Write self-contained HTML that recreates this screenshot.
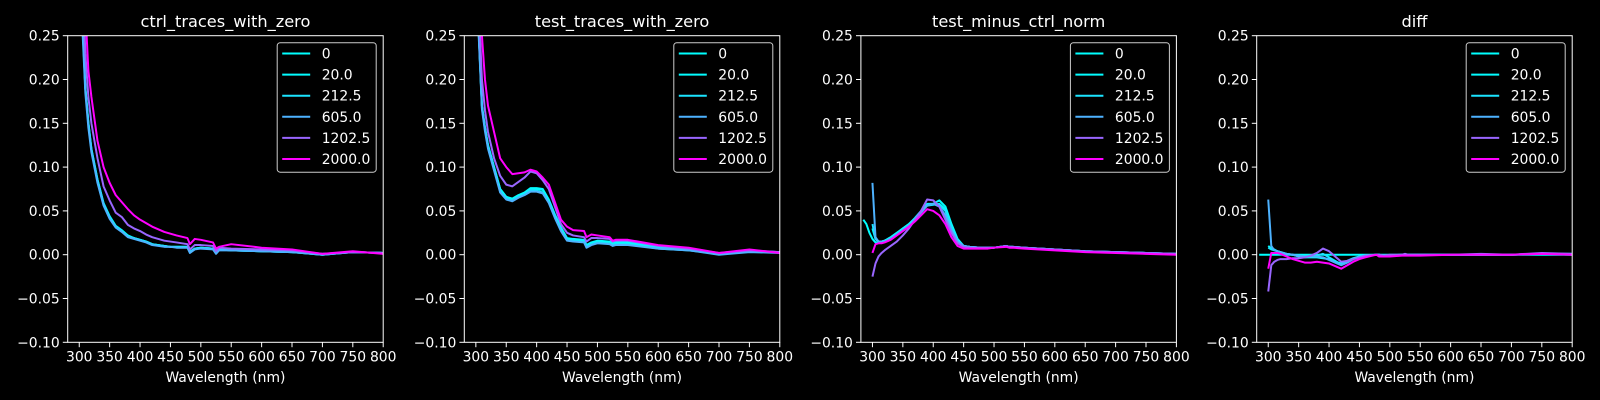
<!DOCTYPE html>
<html><head><meta charset="utf-8">
<style>
html,body{margin:0;padding:0;background:#000;}
svg{display:block;}
text{font-family:"DejaVu Sans","Liberation Sans",sans-serif;fill:#fff;}
</style></head>
<body>
<svg id="fig" width="1600" height="400" viewBox="0 0 1600 400" xmlns="http://www.w3.org/2000/svg">
<rect width="1600" height="400" fill="#000"/>
</svg>
<script>
const wavelengths = [285,290,295,300,305,310,315,320,330,340,350,360,370,380,390,400,410,420,430,440,450,460,478,482,490,500,520,525,530,550,600,650,700,750,800];
const seriesLabels = ["0","20.0","212.5","605.0","1202.5","2000.0"];
const seriesColors = ["#00ffff","#03fcff","#1be4ff","#4db2ff","#9966ff","#ff00ff"];
const panelTitles = ["ctrl_traces_with_zero","test_traces_with_zero","test_minus_ctrl_norm","diff"];
const xTicks = [300,350,400,450,500,550,600,650,700,750,800];
const yTicks = [-0.10,-0.05,0.00,0.05,0.10,0.15,0.20,0.25];
const yTickLabels = ["\u22120.10","\u22120.05","0.00","0.05","0.10","0.15","0.20","0.25"];
const n = null;

const ctrl0 = [n,n,n,0.45,0.27,0.19,0.15,0.12,0.085,0.058,0.043,0.032,0.027,0.021,0.019,0.017,0.015,0.012,0.011,0.010,0.009,0.009,0.009,0.003,0.007,0.008,0.007,0.002,0.006,0.005,0.004,0.003,0.000,0.003,0.002];
const ctrl20 = [n,n,n,0.45,0.272,0.191,0.151,0.121,0.086,0.059,0.044,0.033,0.028,0.022,0.019,0.017,0.015,0.012,0.011,0.010,0.009,0.009,0.009,0.003,0.007,0.008,0.007,0.002,0.006,0.005,0.004,0.003,0.001,0.003,0.002];
const ctrl212 = [n,n,n,0.45,0.27,0.19,0.15,0.12,0.085,0.058,0.043,0.032,0.027,0.021,0.019,0.017,0.015,0.012,0.011,0.010,0.009,0.009,0.009,0.003,0.007,0.008,0.007,0.002,0.006,0.005,0.004,0.003,0.000,0.003,0.002];
const ctrl605 = [n,n,n,0.44,0.26,0.185,0.145,0.117,0.082,0.056,0.041,0.031,0.026,0.020,0.018,0.016,0.014,0.011,0.010,0.009,0.009,0.008,0.008,0.002,0.006,0.007,0.006,0.001,0.005,0.005,0.004,0.003,0.000,0.003,0.002];
const ctrl1202 = [n,n,n,0.5,0.33,0.23,0.18,0.15,0.11,0.078,0.062,0.048,0.043,0.034,0.030,0.027,0.023,0.020,0.018,0.016,0.015,0.014,0.012,0.006,0.011,0.011,0.010,0.004,0.008,0.007,0.006,0.005,0.001,0.003,0.002];
const ctrl2000 = [n,n,n,0.6,0.4,0.28,0.21,0.18,0.13,0.10,0.082,0.068,0.060,0.052,0.045,0.040,0.036,0.032,0.029,0.026,0.024,0.022,0.019,0.012,0.018,0.017,0.014,0.007,0.009,0.012,0.008,0.006,0.001,0.004,0.001];

const test0 = [n,n,n,0.45,0.25,0.17,0.145,0.125,0.10,0.075,0.066,0.063,0.067,0.070,0.075,0.075,0.074,0.062,0.045,0.030,0.018,0.017,0.016,0.010,0.013,0.015,0.014,0.012,0.013,0.013,0.008,0.006,0.001,0.004,0.003];
const test20 = [n,n,n,0.45,0.25,0.17,0.145,0.125,0.10,0.075,0.066,0.064,0.068,0.071,0.076,0.076,0.075,0.063,0.046,0.031,0.019,0.018,0.017,0.011,0.014,0.016,0.015,0.013,0.014,0.014,0.009,0.006,0.001,0.004,0.003];
const test212 = [n,n,n,0.45,0.248,0.168,0.143,0.123,0.098,0.073,0.064,0.062,0.066,0.069,0.074,0.073,0.071,0.060,0.043,0.028,0.017,0.016,0.015,0.009,0.012,0.014,0.013,0.011,0.012,0.012,0.007,0.005,0.001,0.004,0.003];
const test605 = [n,n,n,0.44,0.245,0.166,0.141,0.121,0.096,0.071,0.063,0.061,0.065,0.068,0.072,0.072,0.070,0.059,0.042,0.027,0.016,0.015,0.014,0.008,0.011,0.013,0.012,0.010,0.011,0.011,0.007,0.005,0.000,0.003,0.002];
const test1202 = [n,n,n,0.5,0.28,0.2,0.165,0.14,0.11,0.09,0.08,0.078,0.083,0.088,0.095,0.093,0.085,0.075,0.055,0.035,0.025,0.022,0.020,0.015,0.019,0.019,0.018,0.015,0.016,0.016,0.010,0.007,0.002,0.005,0.003];
const test2000 = [n,n,n,0.6,0.35,0.25,0.2,0.17,0.14,0.11,0.10,0.092,0.093,0.094,0.097,0.095,0.088,0.080,0.060,0.040,0.032,0.028,0.027,0.020,0.023,0.022,0.020,0.016,0.017,0.017,0.011,0.008,0.002,0.006,0.002];

const norm0 = [0.04,0.035,0.025,0.018,0.014,0.014,0.015,0.016,0.020,0.025,0.030,0.035,0.042,0.050,0.058,0.058,0.062,0.055,0.035,0.018,0.010,0.009,0.008,0.008,0.008,0.008,0.010,0.009,0.009,0.008,0.006,0.004,0.003,0.002,0.001];
const norm20 = [n,n,n,0.03,0.018,0.015,0.015,0.016,0.019,0.024,0.030,0.035,0.041,0.049,0.056,0.057,0.058,0.052,0.033,0.017,0.010,0.009,0.008,0.008,0.008,0.008,0.010,0.009,0.009,0.008,0.006,0.004,0.003,0.002,0.001];
const norm212 = [n,n,n,0.035,0.018,0.015,0.015,0.016,0.019,0.024,0.029,0.034,0.041,0.049,0.057,0.058,0.057,0.050,0.031,0.016,0.010,0.009,0.008,0.008,0.008,0.008,0.010,0.009,0.009,0.008,0.006,0.004,0.003,0.002,0.001];
const norm605 = [n,n,n,0.082,0.02,0.015,0.015,0.015,0.018,0.023,0.028,0.033,0.040,0.048,0.056,0.058,0.055,0.045,0.028,0.015,0.010,0.009,0.008,0.008,0.008,0.008,0.010,0.009,0.009,0.008,0.006,0.004,0.003,0.002,0.001];
const norm1202 = [n,n,n,-0.025,-0.01,-0.002,0.002,0.005,0.010,0.015,0.022,0.030,0.040,0.050,0.063,0.062,0.055,0.040,0.025,0.013,0.009,0.008,0.008,0.008,0.008,0.008,0.010,0.009,0.009,0.008,0.006,0.004,0.003,0.002,0.001];
const norm2000 = [n,n,n,0.002,0.012,0.013,0.013,0.014,0.017,0.022,0.027,0.032,0.038,0.045,0.052,0.050,0.045,0.035,0.020,0.010,0.007,0.007,0.007,0.007,0.007,0.008,0.009,0.008,0.008,0.007,0.005,0.003,0.002,0.001,0.000];

const diff0 = [0,0,0,0,0,0,0,0,0,0,0,0,0,0,0,0,0,0,0,0,0,0,0,0,0,0,0,0,0,0,0,0,0,0,0];
const diff20 = [n,n,n,0.010,0.007,0.006,0.004,0.003,0.001,0,-0.002,-0.003,-0.003,-0.003,-0.004,-0.005,-0.008,-0.010,-0.007,-0.004,-0.002,-0.001,0,0,-0.001,-0.001,0,0,0,0,0,0,0,0.001,0.001];
const diff212 = [n,n,n,0.008,0.006,0.005,0.004,0.003,0.001,0,-0.002,-0.003,-0.002,-0.001,0.001,-0.003,-0.007,-0.011,-0.008,-0.005,-0.002,-0.001,0,0,-0.001,-0.001,0,0,0,0,0,0,0,0.001,0.001];
const diff605 = [n,n,n,0.063,0.01,0.005,0.004,0.003,0.001,0,-0.001,-0.002,-0.002,-0.002,-0.003,-0.006,-0.009,-0.012,-0.009,-0.005,-0.003,-0.001,0,0,-0.001,-0.001,0,0,0,0,0,0,0,0.001,0];
const diff1202 = [n,n,n,-0.042,-0.012,-0.008,-0.006,-0.005,-0.005,-0.004,-0.004,-0.003,-0.001,0.002,0.007,0.004,-0.002,-0.008,-0.007,-0.005,-0.003,-0.001,0,0,-0.001,0,0,0.001,0,0,0,0.001,0,0.002,0.001];
const diff2000 = [n,n,n,-0.016,0.002,0.002,0.002,0.001,-0.002,-0.005,-0.007,-0.009,-0.009,-0.008,-0.009,-0.010,-0.013,-0.016,-0.012,-0.008,-0.005,-0.003,0,-0.002,-0.002,-0.002,-0.001,-0.001,-0.001,-0.001,0,0,0,0.001,0];

const panelSeries = [
  [ctrl0,ctrl20,ctrl212,ctrl605,ctrl1202,ctrl2000],
  [test0,test20,test212,test605,test1202,test2000],
  [norm0,norm20,norm212,norm605,norm1202,norm2000],
  [diff0,diff20,diff212,diff605,diff1202,diff2000]
];

const NS = "http://www.w3.org/2000/svg";
const svg = document.getElementById("fig");
const panelLeft = [67.7,464.3,860.9,1256.7];
const AX_W = 315.5, AX_TOP = 35.7, AX_H = 306.6;
const XMIN = 281, XMAX = 800, YMIN = -0.10, YMAX = 0.25;

function mk(tag, attrs, parent){
  const e = document.createElementNS(NS, tag);
  for (const k in attrs) e.setAttribute(k, attrs[k]);
  (parent||svg).appendChild(e);
  return e;
}

panelTitles.forEach((title, p) => {
  const L = panelLeft[p];
  const xs = v => L + (v - XMIN) / (XMAX - XMIN) * AX_W;
  const ys = v => AX_TOP + (YMAX - v) / (YMAX - YMIN) * AX_H;
  const g = mk("g", {});
  
  

  const cp = mk("clipPath", {id: "clip" + p}, g);
  mk("rect", {x: L, y: AX_TOP, width: AX_W, height: AX_H}, cp);

  const lines = mk("g", {"clip-path": "url(#clip" + p + ")"}, g);
  panelSeries[p].forEach((vals, s) => {
    let d = "";
    let started = false;
    vals.forEach((v, i) => {
      if (v === null) return;
      d += (started ? "L" : "M") + xs(wavelengths[i]).toFixed(2) + "," + ys(v).toFixed(2);
      started = true;
    });
    const path = mk("path", {d: d, fill: "none", stroke: seriesColors[s], "stroke-width": 2, "stroke-linejoin": "round"}, lines);
    
    
  });

  const frame = mk("rect", {x: L, y: AX_TOP, width: AX_W, height: AX_H, fill: "none", stroke: "#fff", "stroke-width": 1}, g);
  
  

  xTicks.forEach(t => {
    const x = xs(t);
    mk("line", {x1: x, x2: x, y1: AX_TOP + AX_H, y2: AX_TOP + AX_H + 4.9, stroke: "#fff", "stroke-width": 1}, g);
    const tx = mk("text", {x: x, y: AX_TOP + AX_H + 19, "text-anchor": "middle", "font-size": "13.9"}, g);
    tx.textContent = t;
    
    
  });
  yTicks.forEach((t, i) => {
    const y = ys(t);
    mk("line", {x1: L - 4.9, x2: L, y1: y, y2: y, stroke: "#fff", "stroke-width": 1}, g);
    const ty = mk("text", {x: L - 8, y: y + 5, "text-anchor": "end", "font-size": "13.9"}, g);
    ty.textContent = yTickLabels[i];
    
    
  });
  const tt = mk("text", {x: L + AX_W / 2, y: 27, "text-anchor": "middle", "font-size": "16.2"}, g);
  tt.textContent = title;
  
  
  const xl = mk("text", {x: L + AX_W / 2, y: 382, "text-anchor": "middle", "font-size": "13.9"}, g);
  xl.textContent = "Wavelength (nm)";
  
  

  const lg = mk("g", {}, g);
  
  
  const bx = L + AX_W - 7 - 99, by = AX_TOP + 7;
  mk("rect", {x: bx, y: by, width: 99, height: 129.5, rx: 3, fill: "#000", "fill-opacity": 0.8, stroke: "#cccccc", "stroke-width": 1}, lg);
  seriesLabels.forEach((lab, s) => {
    const yy = by + 10.8 + s * 21.1;
    const ent = mk("g", {}, lg);
    
    
    mk("line", {x1: bx + 5, x2: bx + 33, y1: yy, y2: yy, stroke: seriesColors[s], "stroke-width": 2}, ent);
    const t = mk("text", {x: bx + 44.5, y: yy + 5, "font-size": "13.9"}, ent);
    t.textContent = lab;
  });
});
</script>
</body></html>
